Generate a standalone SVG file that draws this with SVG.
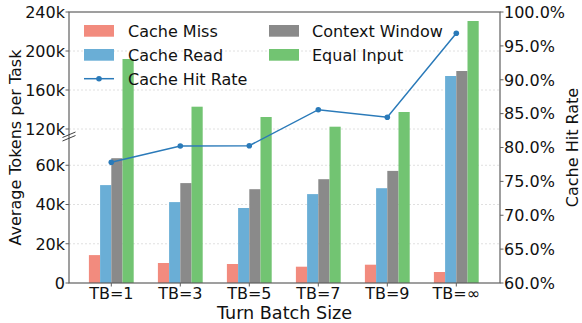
<svg xmlns="http://www.w3.org/2000/svg" width="582" height="323" viewBox="0 0 582 323">
<style>
text{font-family:"DejaVu Sans","Liberation Sans",sans-serif;fill:#111;font-size:16px}
.grid{stroke:#d8d8d8;stroke-width:0.8;stroke-dasharray:2,2}
.spine{stroke:#606060;stroke-width:1.2;fill:none}
.tick{stroke:#606060;stroke-width:1}
.miss{fill:#f28b7e}
.read{fill:#6aaed6}
.ctx{fill:#8a8a8a}
.eq{fill:#72c472}
.hit{stroke:#2a7ab9;stroke-width:1.5;fill:none}
.dot{fill:#2a7ab9}
.r{text-anchor:end}
.m{text-anchor:middle}
</style>
<rect width="582" height="323" fill="#fff"/>
<g id="grid">
<line class="grid" x1="69" y1="51" x2="500" y2="51"/>
<line class="grid" x1="69" y1="90" x2="500" y2="90"/>
<line class="grid" x1="69" y1="129" x2="500" y2="129"/>
<line class="grid" x1="69" y1="165.25" x2="500" y2="165.25"/>
<line class="grid" x1="69" y1="204.5" x2="500" y2="204.5"/>
<line class="grid" x1="69" y1="243.75" x2="500" y2="243.75"/>
</g>
<g id="bars">
<g id="tb1">
<rect class="miss" x="88.9" y="255.1" width="11.2" height="27.9"/>
<rect class="read" x="100.1" y="185.1" width="11.2" height="97.9"/>
<rect class="ctx" x="111.3" y="158.2" width="11.2" height="124.8"/>
<rect class="eq" x="122.5" y="59" width="11.2" height="224"/>
</g>
<g id="tb3">
<rect class="miss" x="157.9" y="263" width="11.2" height="20"/>
<rect class="read" x="169.1" y="202.1" width="11.2" height="80.9"/>
<rect class="ctx" x="180.3" y="183.1" width="11.2" height="99.9"/>
<rect class="eq" x="191.5" y="106.7" width="11.2" height="176.3"/>
</g>
<g id="tb5">
<rect class="miss" x="226.9" y="264" width="11.2" height="19"/>
<rect class="read" x="238.1" y="208" width="11.2" height="75"/>
<rect class="ctx" x="249.3" y="189.2" width="11.2" height="93.8"/>
<rect class="eq" x="260.5" y="117" width="11.2" height="166"/>
</g>
<g id="tb7">
<rect class="miss" x="295.9" y="266.7" width="11.2" height="16.3"/>
<rect class="read" x="307.1" y="194.1" width="11.2" height="88.9"/>
<rect class="ctx" x="318.3" y="179.2" width="11.2" height="103.8"/>
<rect class="eq" x="329.5" y="126.7" width="11.2" height="156.3"/>
</g>
<g id="tb9">
<rect class="miss" x="364.9" y="264.7" width="11.2" height="18.3"/>
<rect class="read" x="376.1" y="188.2" width="11.2" height="94.8"/>
<rect class="ctx" x="387.3" y="170.9" width="11.2" height="112.1"/>
<rect class="eq" x="398.5" y="112" width="11.2" height="171"/>
</g>
<g id="tbinf">
<rect class="miss" x="433.9" y="272" width="11.2" height="11"/>
<rect class="read" x="445.1" y="76" width="11.2" height="207"/>
<rect class="ctx" x="456.3" y="71" width="11.2" height="212"/>
<rect class="eq" x="467.5" y="21" width="11.2" height="262"/>
</g>
</g>
<g id="hit-rate-line">
<polyline class="hit" points="111.3,162.3 180.3,146 249.3,145.7 318.3,109.7 387.3,117.3 456.3,33.3"/>
<circle class="dot" cx="111.3" cy="162.3" r="2.8"/>
<circle class="dot" cx="180.3" cy="146" r="2.8"/>
<circle class="dot" cx="249.3" cy="145.7" r="2.8"/>
<circle class="dot" cx="318.3" cy="109.7" r="2.8"/>
<circle class="dot" cx="387.3" cy="117.3" r="2.8"/>
<circle class="dot" cx="456.3" cy="33.3" r="2.8"/>
</g>
<g id="axes">
<rect class="spine" x="69" y="12" width="431" height="271"/>
<line x1="62.5" y1="137.5" x2="75.5" y2="132" stroke="#404040" stroke-width="1"/>
<line x1="62.5" y1="141" x2="75.5" y2="135.5" stroke="#404040" stroke-width="1"/>
<g class="tick">
<line x1="65.5" y1="12" x2="69" y2="12"/><line x1="65.5" y1="51" x2="69" y2="51"/><line x1="65.5" y1="90" x2="69" y2="90"/><line x1="65.5" y1="129" x2="69" y2="129"/>
<line x1="65.5" y1="165.25" x2="69" y2="165.25"/><line x1="65.5" y1="204.5" x2="69" y2="204.5"/><line x1="65.5" y1="243.75" x2="69" y2="243.75"/><line x1="65.5" y1="283" x2="69" y2="283"/>
<line x1="500" y1="12" x2="503.5" y2="12"/><line x1="500" y1="45.9" x2="503.5" y2="45.9"/><line x1="500" y1="79.75" x2="503.5" y2="79.75"/><line x1="500" y1="113.6" x2="503.5" y2="113.6"/><line x1="500" y1="147.5" x2="503.5" y2="147.5"/><line x1="500" y1="181.4" x2="503.5" y2="181.4"/><line x1="500" y1="215.25" x2="503.5" y2="215.25"/><line x1="500" y1="249.1" x2="503.5" y2="249.1"/><line x1="500" y1="283" x2="503.5" y2="283"/>
<line x1="111.3" y1="283" x2="111.3" y2="286.5"/><line x1="180.3" y1="283" x2="180.3" y2="286.5"/><line x1="249.3" y1="283" x2="249.3" y2="286.5"/><line x1="318.3" y1="283" x2="318.3" y2="286.5"/><line x1="387.3" y1="283" x2="387.3" y2="286.5"/><line x1="456.3" y1="283" x2="456.3" y2="286.5"/>
</g>
<text class="r" x="65" y="17.8">240k</text>
<text class="r" x="65" y="56.8">200k</text>
<text class="r" x="65" y="95.8">160k</text>
<text class="r" x="65" y="134.8">120k</text>
<text class="r" x="65" y="171">60k</text>
<text class="r" x="65" y="210.3">40k</text>
<text class="r" x="65" y="249.5">20k</text>
<text class="r" x="65" y="288.8">0</text>
<text x="504" y="17.8">100.0%</text>
<text x="504" y="51.7">95.0%</text>
<text x="504" y="85.5">90.0%</text>
<text x="504" y="119.4">85.0%</text>
<text x="504" y="153.3">80.0%</text>
<text x="504" y="187.2">75.0%</text>
<text x="504" y="221">70.0%</text>
<text x="504" y="254.9">65.0%</text>
<text x="504" y="288.8">60.0%</text>
<text class="m" x="111.3" y="299">TB=1</text>
<text class="m" x="180.3" y="299">TB=3</text>
<text class="m" x="249.3" y="299">TB=5</text>
<text class="m" x="318.3" y="299">TB=7</text>
<text class="m" x="387.3" y="299">TB=9</text>
<text class="m" x="456.3" y="299">TB=∞</text>
<text class="m" x="284.5" y="318.5" style="font-size:17.6px">Turn Batch Size</text>
<text class="m" transform="translate(20.5,147.5) rotate(-90)">Average Tokens per Task</text>
<text class="m" transform="translate(578,147.5) rotate(-90)">Cache Hit Rate</text>
</g>
<g id="legend">
<rect class="miss" x="84" y="25" width="30" height="11.7"/>
<text x="128" y="36.6">Cache Miss</text>
<rect class="read" x="84" y="49" width="30" height="11.7"/>
<text x="128" y="60.6">Cache Read</text>
<line class="hit" x1="84" y1="78.7" x2="114" y2="78.7"/>
<circle class="dot" cx="99" cy="78.7" r="2.8"/>
<text x="128" y="84.5">Cache Hit Rate</text>
<rect class="ctx" x="269" y="25" width="30" height="11.7"/>
<text x="312" y="36.6">Context Window</text>
<rect class="eq" x="269" y="49" width="30" height="11.7"/>
<text x="312" y="60.6">Equal Input</text>
</g>
</svg>
